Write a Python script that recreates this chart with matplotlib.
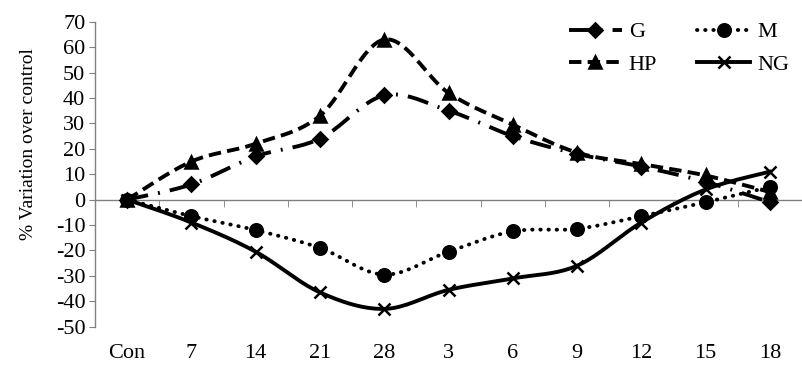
import matplotlib
matplotlib.use('Agg')
import matplotlib.pyplot as plt
import numpy as np

# chart data
categories = ['Con', '7', '14', '21', '28', '3', '6', '9', '12', '15', '18']
g_vals = [0, 6, 17, 24, 41, 35, 25, 18, 13, 7, -1]
m_vals = [0, -6.5, -12, -19, -29.5, -20.5, -12.5, -11.5, -6.5, -1, 5]
hp_vals = [0, 15, 22, 33, 63, 42, 29.5, 18.5, 14, 9.5, 3]
ng_vals = [0, -9, -20.5, -36.5, -43, -35.5, -31, -26, -9, 4, 11]

plt.rcParams['font.family'] = ['Liberation Serif', 'DejaVu Serif']
plt.rcParams['axes.unicode_minus'] = False


def smooth(y, n=20):
    # catmull-rom style smoothing, like excel "smoothed line"
    x = np.arange(len(y), dtype=float)
    y = np.asarray(y, dtype=float)
    px = np.concatenate([[x[0]], x, [x[-1]]])
    py = np.concatenate([[y[0]], y, [y[-1]]])
    xs, ys = [], []
    t = np.linspace(0, 1, n, endpoint=False)
    for i in range(len(y) - 1):
        p0 = np.array([px[i], py[i]])
        p1 = np.array([px[i + 1], py[i + 1]])
        p2 = np.array([px[i + 2], py[i + 2]])
        p3 = np.array([px[i + 3], py[i + 3]])
        c1 = p1 + (p2 - p0) / 6
        c2 = p2 - (p3 - p1) / 6
        for tt in t:
            pt = ((1 - tt) ** 3) * p1 + 3 * ((1 - tt) ** 2) * tt * c1 + 3 * (1 - tt) * tt ** 2 * c2 + tt ** 3 * p2
            xs.append(pt[0])
            ys.append(pt[1])
    xs.append(x[-1])
    ys.append(y[-1])
    marks = [i * n for i in range(len(y))]
    return np.array(xs), np.array(ys), marks


fig = plt.figure(figsize=(8.03, 3.81), dpi=100)
ax = fig.add_axes([0.1183, 0.1425, 0.8805, 0.8005])

lw = 2.8
series = [
    ('G', g_vals, 'D', (0, (5.5, 2.6, 0.5, 2.6)), 7.5),
    ('HP', hp_vals, '^', (0, (3.2, 1.6)), 8.5),
    ('M', m_vals, 'o', (0, (0.1, 2.0)), 9),
    ('NG', ng_vals, 'x', '-', 8),
]
for name, vals, mk, ls, ms in series:
    xs, ys, marks = smooth(vals)
    ax.plot(xs, ys, color='black', lw=lw, linestyle=ls, marker=mk, markevery=marks,
            markersize=ms, markeredgewidth=1.8, dash_capstyle='round' if name == 'M' else 'butt',
            label=name, zorder=3)

ax.set_xlim(-0.5, len(categories) - 0.5)
ax.set_ylim(-50, 70)
ax.set_yticks(np.arange(-50, 71, 10))

ax.spines['top'].set_visible(False)
ax.spines['right'].set_visible(False)
ax.spines['bottom'].set_position(('data', 0))
for s in ['left', 'bottom']:
    ax.spines[s].set_color('#808080')
    ax.spines[s].set_linewidth(1)

ax.set_xticks(np.arange(len(categories)))
ax.set_xticklabels(categories)
ax.set_xticks(np.arange(len(categories) - 1) + 0.5, minor=True)
ax.tick_params(axis='x', which='major', length=0, pad=104, labelsize=16)
ax.tick_params(axis='x', which='minor', length=5, direction='out', color='#808080')
ax.tick_params(axis='y', length=4, direction='out', color='#808080', labelsize=16, pad=3)

ax.set_ylabel('% Variation over control', fontsize=14)
ax.yaxis.set_label_coords(-0.082, 0.60)

ax.legend(ncol=2, frameon=False, fontsize=16, handlelength=2.4, loc='upper right',
          bbox_to_anchor=(1.01, 1.065), columnspacing=1.8, labelspacing=0.55, handletextpad=0.3)

fig.savefig('out.png', dpi=100)
